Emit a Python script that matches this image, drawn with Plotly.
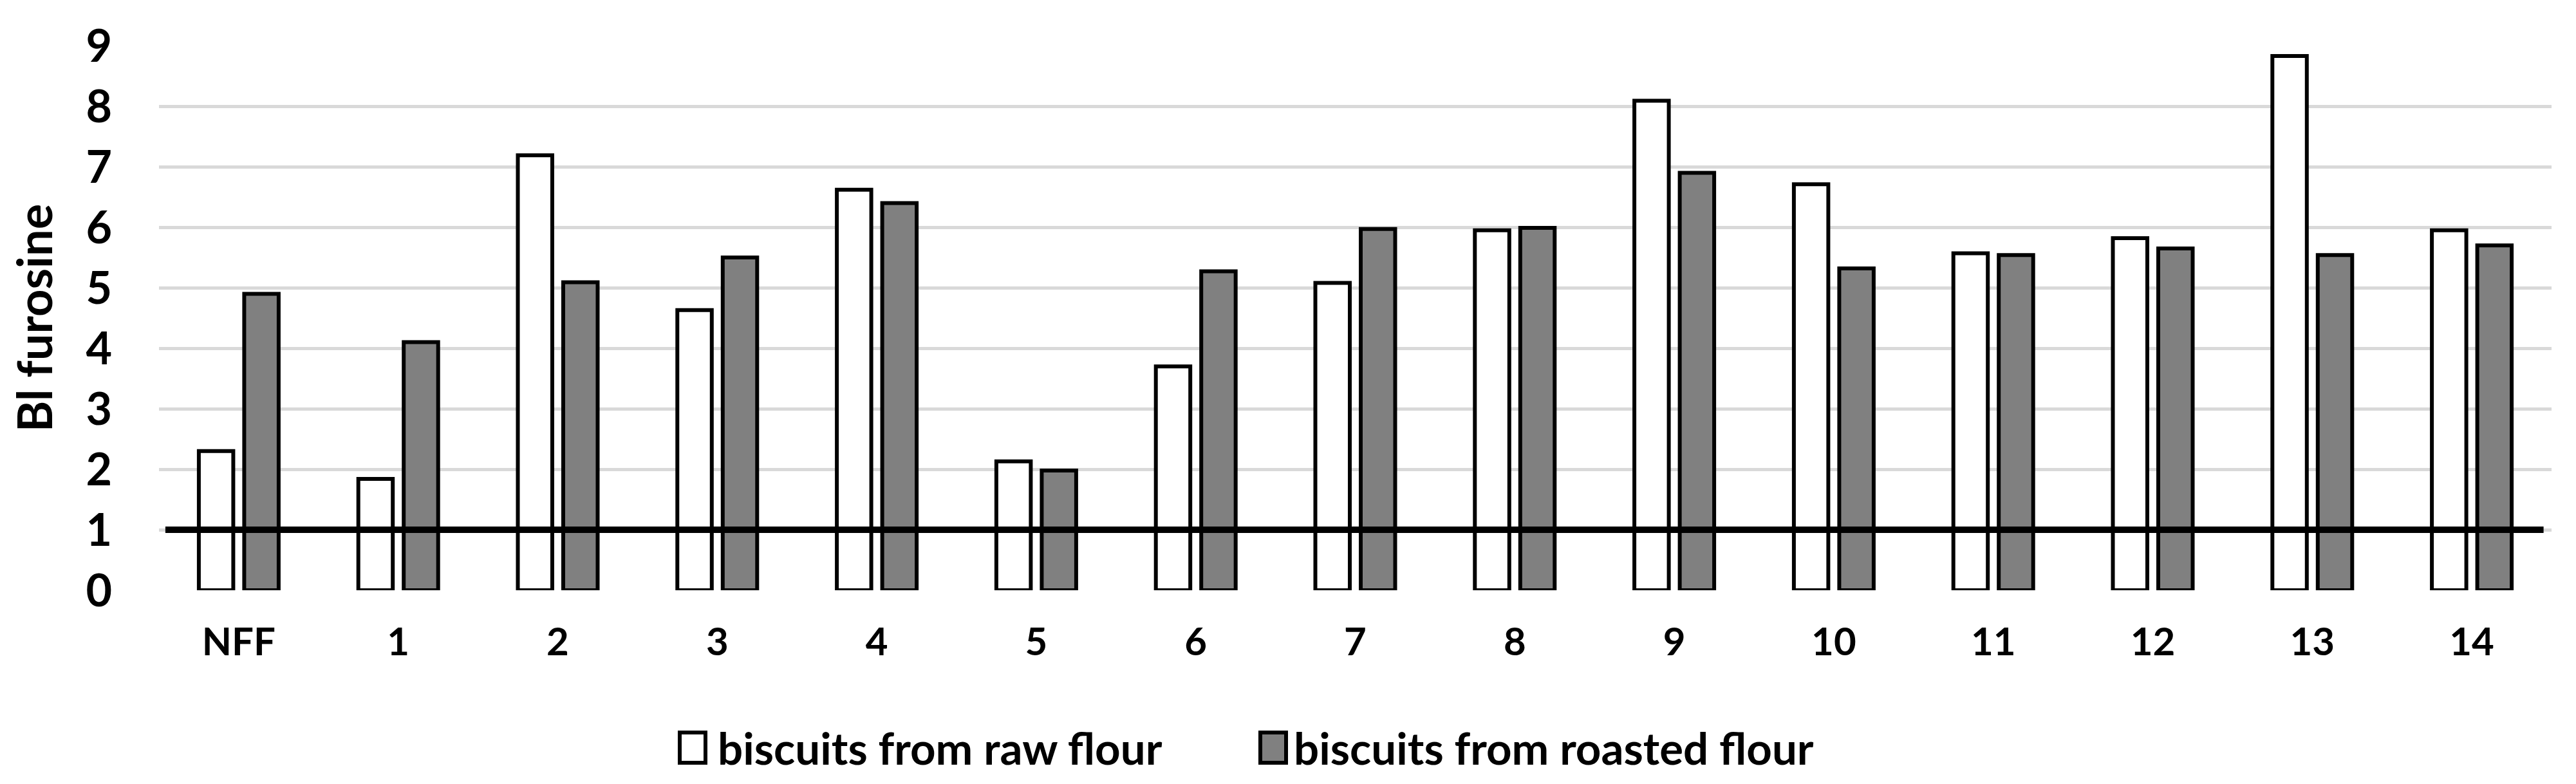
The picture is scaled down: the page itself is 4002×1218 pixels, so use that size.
import plotly.graph_objects as go

categories = ["NFF", "1", "2", "3", "4", "5", "6", "7", "8", "9", "10", "11", "12", "13", "14"]
raw_flour = [2.30, 1.84, 7.19, 4.63, 6.62, 2.13, 3.70, 5.08, 5.95, 8.09, 6.71, 5.57, 5.82, 8.83, 5.95]
roasted_flour = [4.90, 4.10, 5.09, 5.50, 6.40, 1.98, 5.27, 5.97, 5.99, 6.90, 5.32, 5.54, 5.65, 5.54, 5.70]
threshold = 1
series_names = ["biscuits from raw flour", "biscuits from roasted flour"]
y_ticks = list(range(0, 10))

W, H = 4002, 1218
L, R, T, B = 239, 46, 63, 309
PW, PH = W - L - R, H - T - B

FONT = "Lato"

fig = go.Figure()
fig.add_trace(go.Bar(x=categories, y=raw_flour, name=series_names[0],
                     marker=dict(color="white", line=dict(color="black", width=6))))
fig.add_trace(go.Bar(x=categories, y=roasted_flour, name=series_names[1],
                     marker=dict(color="#808080", line=dict(color="black", width=6))))

def px_x(p):
    return (p - L) / PW

def px_y(p):
    return (H - B - p) / PH

shapes = [
    dict(type="line", xref="x", yref="y", x0=-0.46, x1=14.45, y0=threshold, y1=threshold,
         line=dict(color="black", width=10), layer="above"),
]
annotations = []
legend_items = [
    (1048, 1088, 1117, "white"),
    (1950, 1990, 2012, "#808080"),
]
for (sx0, sx1, tx, col), name in zip(legend_items, series_names):
    shapes.append(dict(type="rect", xref="paper", yref="paper",
                       x0=px_x(sx0), x1=px_x(sx1), y0=px_y(1177), y1=px_y(1130),
                       fillcolor=col, line=dict(color="black", width=6)))
    annotations.append(dict(xref="paper", yref="paper", x=px_x(tx - 12), y=px_y(1153),
                            xanchor="left", yanchor="middle", text=name, showarrow=False,
                            font=dict(family=FONT, size=69, color="black", weight="bold")))

fig.update_layout(
    width=W, height=H,
    margin=dict(l=L, r=R, t=T, b=B),
    paper_bgcolor="white", plot_bgcolor="white",
    barmode="group", bargap=0.431, bargroupgap=0.241,
    showlegend=False,
    shapes=shapes, annotations=annotations,
    font=dict(family=FONT, color="black"),
)
fig.update_xaxes(
    type="category", range=[-0.5, 14.5], showgrid=False, showline=False, zeroline=False,
    tickfont=dict(family=FONT, size=60, color="black", weight="bold"),
    ticks="", ticklabelstandoff=40,
)
fig.update_yaxes(
    range=[0, 9], tickvals=y_ticks, showgrid=True, gridcolor="#d9d9d9", gridwidth=5,
    zeroline=False, showline=False, ticks="", ticklabelstandoff=72,
    tickfont=dict(family=FONT, size=70, color="black", weight="bold"),
    title=dict(text="Bl furosine", standoff=36,
               font=dict(family=FONT, size=74, color="black", weight="bold")),
)

fig.write_html("out.html")
